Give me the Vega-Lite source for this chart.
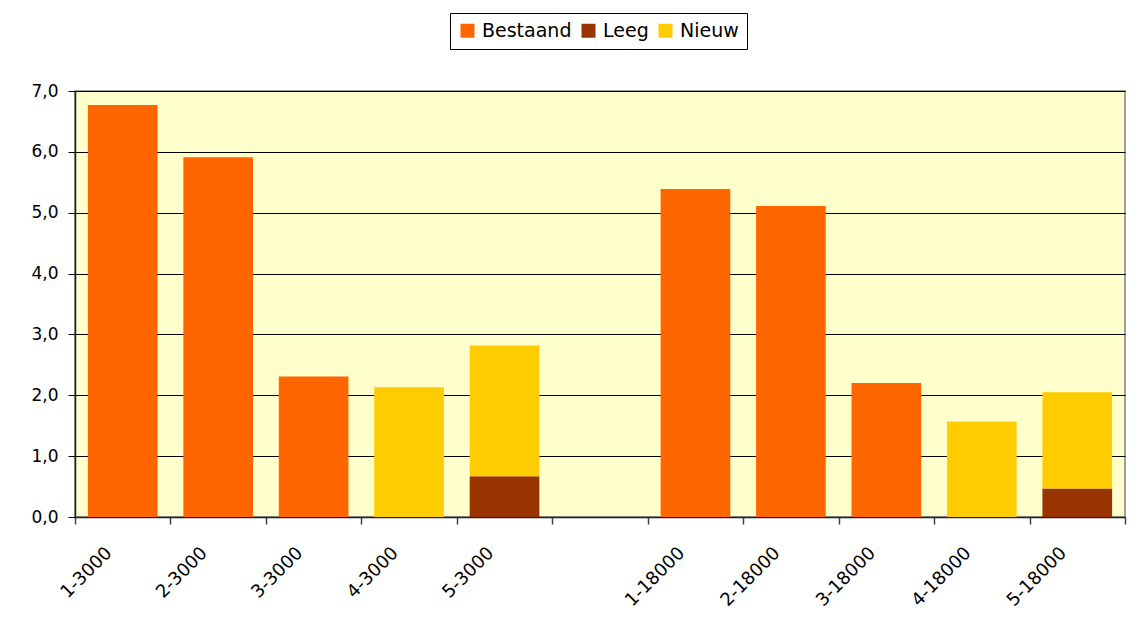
{
  "$schema": "https://vega.github.io/schema/vega-lite/v6.json",
  "width": 1050,
  "height": 426,
  "autosize": {"type": "none"},
  "padding": {"left": 75, "top": 91, "right": 12, "bottom": 111},
  "background": "white",
  "config": {
    "font": "DejaVu Sans",
    "view": {"fill": "#FFFFCC", "stroke": "#808080", "strokeWidth": 1.5}
  },
  "data": {
    "values": [
      {"groep": "1-3000", "type": "Bestaand", "waarde": 6.77},
      {"groep": "2-3000", "type": "Bestaand", "waarde": 5.91},
      {"groep": "3-3000", "type": "Bestaand", "waarde": 2.31},
      {"groep": "4-3000", "type": "Nieuw", "waarde": 2.13},
      {"groep": "5-3000", "type": "Leeg", "waarde": 0.67},
      {"groep": "5-3000", "type": "Nieuw", "waarde": 2.15},
      {"groep": "1-18000", "type": "Bestaand", "waarde": 5.39},
      {"groep": "2-18000", "type": "Bestaand", "waarde": 5.11},
      {"groep": "3-18000", "type": "Bestaand", "waarde": 2.2},
      {"groep": "4-18000", "type": "Nieuw", "waarde": 1.57},
      {"groep": "5-18000", "type": "Leeg", "waarde": 0.47},
      {"groep": "5-18000", "type": "Nieuw", "waarde": 1.58}
    ]
  },
  "mark": {"type": "bar", "width": {"band": 0.73}},
  "encoding": {
    "x": {
      "field": "groep",
      "type": "nominal",
      "scale": {
        "domain": ["1-3000", "2-3000", "3-3000", "4-3000", "5-3000", "tussen", "1-18000", "2-18000", "3-18000", "4-18000", "5-18000"],
        "paddingInner": 0,
        "paddingOuter": 0
      },
      "axis": {
        "title": null,
        "tickBand": "extent",
        "labelExpr": "datum.value == 'tussen' ? '' : datum.value",
        "labelAngle": -45,
        "labelAlign": "right",
        "labelBaseline": "middle",
        "labelFontSize": 18,
        "labelColor": "black",
        "labelPadding": 26,
        "labelOffset": -14,
        "tickSize": 7,
        "tickColor": "#404040",
        "tickWidth": 1.5,
        "domainColor": "#202020",
        "domainWidth": 1.5,
        "grid": false
      }
    },
    "y": {
      "field": "waarde",
      "type": "quantitative",
      "stack": "zero",
      "scale": {"domain": [0, 7], "nice": false},
      "axis": {
        "title": null,
        "values": [0, 1, 2, 3, 4, 5, 6, 7],
        "labelExpr": "replace(format(datum.value, '.1f'), '.', ',')",
        "labelFontSize": 17,
        "labelColor": "black",
        "labelPadding": 10,
        "tickSize": 7,
        "tickColor": "black",
        "domainColor": "#202020",
        "domainWidth": 1.5,
        "grid": true,
        "gridColor": "black",
        "gridWidth": 1,
        "gridOpacity": 1
      }
    },
    "color": {
      "field": "type",
      "type": "nominal",
      "scale": {
        "domain": ["Bestaand", "Leeg", "Nieuw"],
        "range": ["#FF6600", "#993300", "#FFCC00"]
      },
      "legend": {
        "title": null,
        "orient": "none",
        "direction": "horizontal",
        "legendX": 375,
        "legendY": -78,
        "symbolType": "square",
        "symbolSize": 196,
        "symbolStrokeWidth": 0,
        "labelFontSize": 19,
        "labelColor": "black",
        "labelOffset": 5,
        "columnPadding": 7,
        "padding": 8,
        "strokeColor": "black",
        "fillColor": "white"
      }
    },
    "order": {"field": "type", "sort": "ascending"}
  }
}
